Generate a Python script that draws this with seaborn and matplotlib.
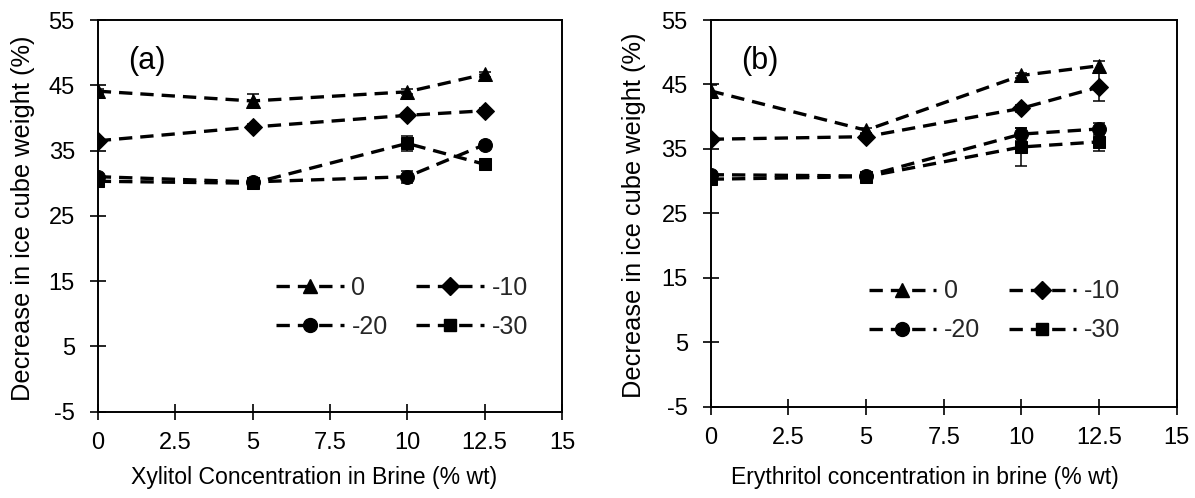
import numpy as np
import pandas as pd
import matplotlib
matplotlib.use("Agg")
import matplotlib.pyplot as plt
from matplotlib.lines import Line2D
import seaborn as sns

# Concentrations (% wt)
conc = [0, 5, 10, 12.5]

# Freezing temperatures (series labels)
temps = ["0", "-10", "-20", "-30"]

# (a) Xylitol: decrease in ice cube weight (%)
xyl_0 = [44.1, 42.6, 44.0, 46.7]
xyl_m10 = [36.5, 38.6, 40.4, 41.1]
xyl_m20 = [31.0, 30.2, 31.0, 35.9]
xyl_m30 = [30.3, 30.0, 36.1, 32.9]
xyl_err_0 = [0.4, 1.1, 0.4, 0.4]
xyl_err_m10 = [0.4, 0.4, 0.4, 0.4]
xyl_err_m20 = [0.4, 0.5, 0.9, 0.4]
xyl_err_m30 = [0.4, 0.8, 1.2, 0.4]

# (b) Erythritol: decrease in ice cube weight (%)
ery_0 = [44.0, 37.9, 46.4, 47.9]
ery_m10 = [36.5, 36.9, 41.3, 44.6]
ery_m20 = [31.0, 30.8, 37.3, 38.1]
ery_m30 = [30.3, 30.7, 35.3, 36.1]
ery_err_0 = [0.9, 0.4, 0.4, 0.8]
ery_err_m10 = [0.5, 0.4, 0.5, 2.2]
ery_err_m20 = [0.5, 0.4, 1.0, 0.9]
ery_err_m30 = [0.4, 0.4, 3.0, 1.5]

xticks = [0, 2.5, 5, 7.5, 10, 12.5, 15]
xtick_labels = ["0", "2.5", "5", "7.5", "10", "12.5", "15"]
yticks = [-5, 5, 15, 25, 35, 45, 55]
ytick_labels = ["-5", "5", "15", "25", "35", "45", "55"]

markers = ["^", "D", "o", "s"]
msizes = [10.5, 9.5, 10, 9]

sns.set_theme(style="white")
plt.rcParams["font.family"] = ["Liberation Sans", "DejaVu Sans"]

fig = plt.figure(figsize=(11.95, 4.98), dpi=100)
ax_a = fig.add_axes([0.0818, 0.1733, 0.3885, 0.7865])
ax_b = fig.add_axes([0.5947, 0.1833, 0.3900, 0.7765])

# (axes, series, errors, x label, tag, ylabel x, xlabel (x, y), legend anchor)
panels = [
    (ax_a, [xyl_0, xyl_m10, xyl_m20, xyl_m30],
     [xyl_err_0, xyl_err_m10, xyl_err_m20, xyl_err_m30],
     "Xylitol Concentration in Brine (% wt)", "(a)",
     -0.161, (0.466, -0.169), (0.385, 0.266)),
    (ax_b, [ery_0, ery_m10, ery_m20, ery_m30],
     [ery_err_0, ery_err_m10, ery_err_m20, ery_err_m30],
     "Erythritol concentration in brine (% wt)", "(b)",
     -0.165, (0.460, -0.184), (0.339, 0.248)),
]

dash = (0, (4.0, 2.4))
for ax, series, errs, xlabel, tag, ylab_x, xlab_pos, leg_pos in panels:
    rows = []
    for t, vals in zip(temps, series):
        for c, v in zip(conc, vals):
            rows.append({"conc": c, "val": v, "temp": t})
    df = pd.DataFrame(rows)
    for t, m, ms, err in zip(temps, markers, msizes, errs):
        sub = df[df["temp"] == t]
        ax.errorbar(sub["conc"], sub["val"], yerr=err, fmt="none",
                    ecolor="black", elinewidth=1.1, capsize=4.5, capthick=1.1,
                    zorder=2)
        sns.lineplot(data=sub, x="conc", y="val", ax=ax, color="black",
                     linewidth=2.4, linestyle=dash, marker=m, markersize=ms,
                     markeredgecolor="black", markerfacecolor="black",
                     legend=False, zorder=3)

    ax.set_xlim(0, 15)
    ax.set_ylim(-5, 55)
    ax.set_xticks(xticks)
    ax.set_xticklabels(xtick_labels)
    ax.set_yticks(yticks)
    ax.set_yticklabels(ytick_labels)
    ax.tick_params(axis="both", direction="inout", length=11, width=1.2,
                   labelsize=17, colors="black",
                   bottom=True, left=True, top=False, right=False)
    ax.tick_params(axis="x", pad=9)
    ax.tick_params(axis="y", pad=11)
    for s in ax.spines.values():
        s.set_color("black")
        s.set_linewidth(1.4)
    ax.set_xlabel(xlabel, fontsize=16.6, color="black")
    ax.set_ylabel("Decrease in ice cube weight (%)", fontsize=18.3,
                  color="black")
    ax.yaxis.set_label_coords(ylab_x, 0.495)
    ax.yaxis.label.set_va("center")
    ax.xaxis.set_label_coords(*xlab_pos)
    ax.xaxis.label.set_va("center")
    ax.text(0.065, 0.895, tag, transform=ax.transAxes, fontsize=22,
            color="black", va="center")

    handles = [Line2D([0], [0], color="black", linewidth=2.4, linestyle=dash,
                      marker=m, markersize=ms, markerfacecolor="black")
               for m, ms in zip(markers, msizes)]
    # column-first fill: reorder so rows read 0, -10 / -20, -30
    order = [0, 2, 1, 3]
    ax.legend([handles[i] for i in order], [temps[i] for i in order],
              ncol=2, loc="center left", bbox_to_anchor=leg_pos,
              frameon=False, fontsize=18, handlelength=2.7,
              handletextpad=0.3, columnspacing=1.15, labelspacing=0.6,
              borderpad=0, borderaxespad=0)

fig.savefig("out.png", dpi=100, facecolor="white")
